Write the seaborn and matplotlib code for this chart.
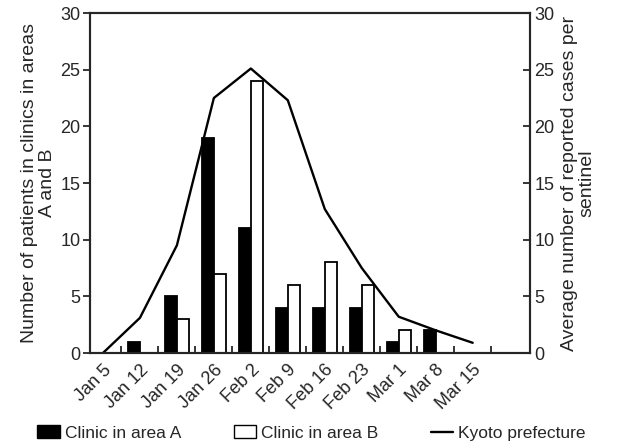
import numpy as np
import pandas as pd
import matplotlib
matplotlib.use('Agg')
import matplotlib.pyplot as plt
import seaborn as sns
from matplotlib.patches import Patch
from matplotlib.lines import Line2D

weeks = ["Jan 5", "Jan 12", "Jan 19", "Jan 26", "Feb 2", "Feb 9",
         "Feb 16", "Feb 23", "Mar 1", "Mar 8", "Mar 15"]
clinic_a = [0, 1, 5, 19, 11, 4, 4, 4, 1, 2, 0]
clinic_b = [0, 0, 3, 7, 24, 6, 8, 6, 2, 0, 0]
kyoto = [0, 3.1, 9.5, 22.5, 25.1, 22.3, 12.7, 7.5, 3.2, 2.0, 0.9]
series_names = ["Clinic in area A", "Clinic in area B", "Kyoto prefecture"]


def main():
    sns.set_style("ticks")
    plt.rcParams['font.family'] = ['Liberation Sans', 'DejaVu Sans']

    df = pd.DataFrame({
        "week": weeks * 2,
        "patients": clinic_a + clinic_b,
        "clinic": [series_names[0]] * len(weeks) + [series_names[1]] * len(weeks),
    })

    fig = plt.figure(figsize=(6.17, 4.48), dpi=100)
    ax = fig.add_axes([90 / 617, 95 / 448, 440 / 617, 340 / 448])

    sns.barplot(data=df, x="week", y="patients", hue="clinic",
                palette=["black", "white"], edgecolor="black", linewidth=1.3,
                width=0.64, dodge=True, legend=False, ax=ax)

    ax2 = ax.twinx()
    x_idx = np.arange(len(weeks))
    sns.lineplot(x=x_idx, y=kyoto, color="black", linewidth=1.7, ax=ax2)

    ax.set_xlim(-0.35, 11.55)
    ax.set_ylim(0, 30)
    ax2.set_ylim(0, 30)
    ax.set_yticks(range(0, 31, 5))
    ax2.set_yticks(range(0, 31, 5))

    # category labels without ticks, small ticks between categories
    ax.set_xticks(x_idx)
    ax.set_xticklabels(weeks, rotation=45, ha="right", rotation_mode="anchor", fontsize=13)
    ax.tick_params(axis="x", which="major", length=0, pad=6)
    ax.set_xticks(x_idx + 0.5, minor=True)
    ax.tick_params(axis="x", which="minor", direction="in", length=5, width=1.3)
    ax.set_xlabel("")

    ax.tick_params(axis="y", direction="out", length=5, width=1.3, labelsize=13, pad=2)
    ax2.tick_params(axis="y", direction="in", length=5, width=1.3, labelsize=13, pad=3)

    ax.set_ylabel("Number of patients in clinics in areas\nA and B", fontsize=14,
                  linespacing=1.05, labelpad=3)
    ax2.set_ylabel("Average number of reported cases per\nsentinel", fontsize=14,
                   linespacing=1.05, labelpad=5)

    for a in (ax, ax2):
        for s in a.spines.values():
            s.set_linewidth(1.5)
    ax.spines["top"].set_visible(True)
    ax.spines["right"].set_visible(True)
    ax2.spines["top"].set_visible(True)

    handles = [Patch(facecolor="black", edgecolor="black"),
               Patch(facecolor="white", edgecolor="black"),
               Line2D([0], [0], color="black", linewidth=1.7)]
    fig.legend(handles, series_names, loc="center", bbox_to_anchor=(0.505, 15 / 448),
               ncol=3, frameon=False, fontsize=12.5, handlelength=1.3,
               handleheight=0.8, handletextpad=0.3, columnspacing=3.0)

    fig.savefig("out.png", dpi=100)


if __name__ == "__main__":
    main()
